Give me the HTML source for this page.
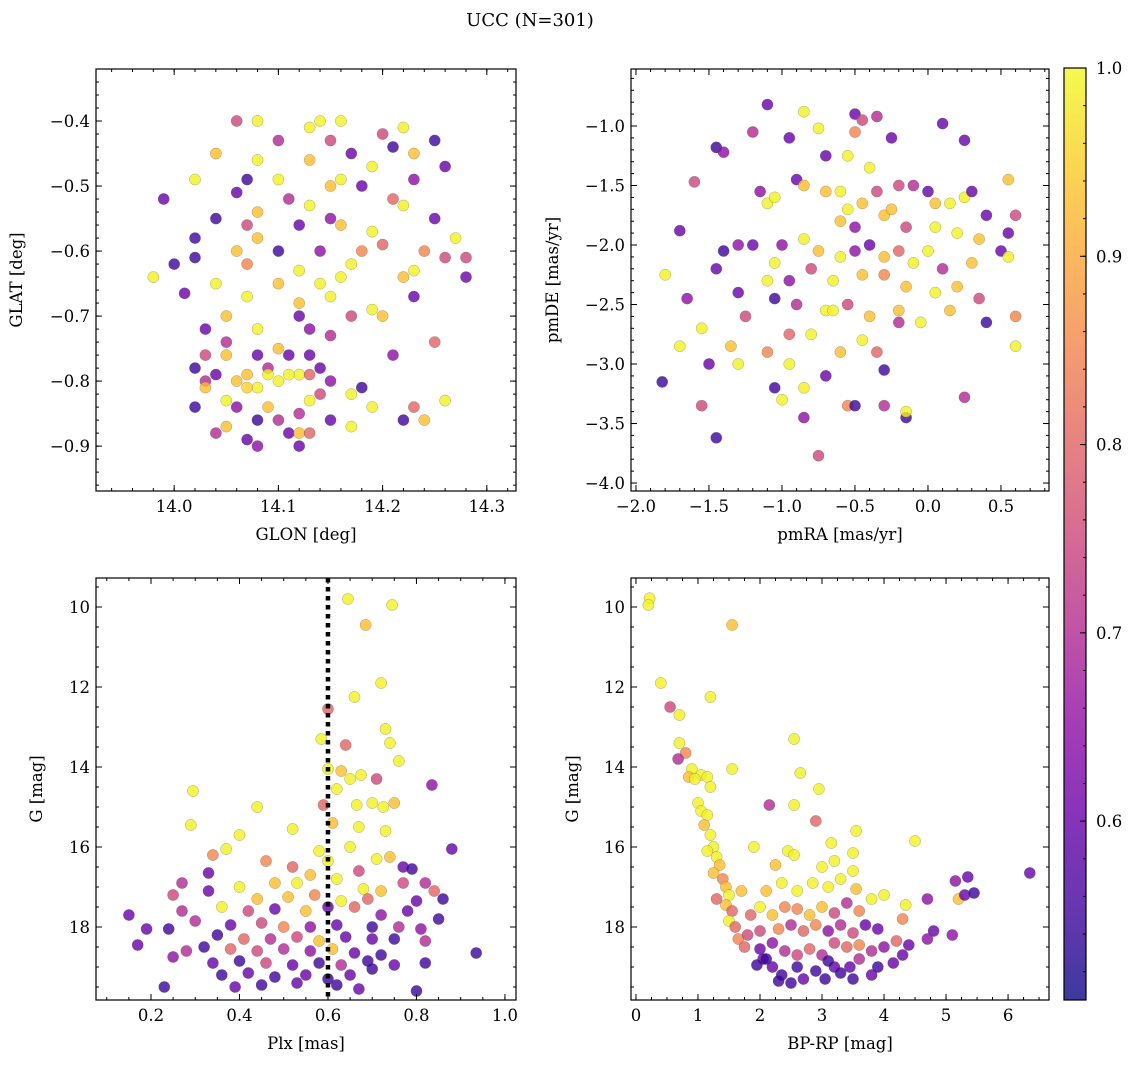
<!DOCTYPE html>
<html><head><meta charset="utf-8"><style>
html,body{margin:0;padding:0;background:#fff;width:1136px;height:1068px;overflow:hidden}
svg text{font-family:"DejaVu Serif","Liberation Serif",serif;fill:#000}
</style></head><body>
<svg id="fig" width="1136" height="1068" viewBox="0 0 1136 1068" xmlns="http://www.w3.org/2000/svg">
<defs>
<linearGradient id="plasma" x1="0" y1="1" x2="0" y2="0"></linearGradient>
</defs>
<text x="530" y="26" font-size="18" text-anchor="middle">UCC (N=301)</text>
</svg>
<script>
// ---- data arrays: [x, y, membership probability] ----
const glonGlat = [[13.98,-0.64,0.99],[13.99,-0.52,0.6],[14.0,-0.62,0.55],[14.01,-0.665,0.6],[14.02,-0.49,0.99],[14.02,-0.58,0.55],[14.02,-0.61,0.55],[14.03,-0.72,0.6],[14.03,-0.76,0.75],[14.02,-0.84,0.55],[14.02,-0.78,0.55],[14.03,-0.8,0.7],[14.04,-0.45,0.93],[14.04,-0.55,0.55],[14.04,-0.65,0.99],[14.05,-0.7,0.93],[14.05,-0.74,0.7],[14.05,-0.83,0.99],[14.05,-0.87,0.93],[14.04,-0.88,0.7],[14.06,-0.51,0.6],[14.06,-0.6,0.93],[14.06,-0.4,0.75],[14.07,-0.49,0.55],[14.07,-0.56,0.75],[14.07,-0.62,0.85],[14.07,-0.67,0.99],[14.08,-0.4,0.99],[14.08,-0.46,0.99],[14.08,-0.54,0.93],[14.08,-0.58,0.93],[14.08,-0.72,0.99],[14.08,-0.76,0.6],[14.07,-0.79,0.93],[14.08,-0.81,0.99],[14.08,-0.86,0.55],[14.07,-0.89,0.6],[14.09,-0.78,0.7],[14.09,-0.84,0.93],[14.1,-0.43,0.7],[14.1,-0.49,0.99],[14.1,-0.6,0.55],[14.1,-0.65,0.93],[14.1,-0.75,0.93],[14.1,-0.8,0.99],[14.11,-0.88,0.6],[14.11,-0.52,0.7],[14.12,-0.56,0.6],[14.12,-0.63,0.99],[14.12,-0.68,0.93],[14.12,-0.7,0.6],[14.12,-0.79,0.99],[14.12,-0.85,0.7],[14.12,-0.88,0.93],[14.13,-0.41,0.99],[14.13,-0.46,0.93],[14.13,-0.53,0.99],[14.13,-0.72,0.65],[14.13,-0.76,0.6],[14.13,-0.83,0.99],[14.14,-0.4,0.99],[14.14,-0.6,0.65],[14.14,-0.65,0.99],[14.14,-0.78,0.6],[14.14,-0.82,0.75],[14.15,-0.43,0.75],[14.15,-0.5,0.93],[14.15,-0.55,0.65],[14.15,-0.67,0.99],[14.15,-0.73,0.7],[14.15,-0.8,0.65],[14.15,-0.86,0.6],[14.16,-0.4,0.99],[14.16,-0.49,0.99],[14.16,-0.56,0.93],[14.16,-0.64,0.99],[14.17,-0.45,0.6],[14.17,-0.62,0.99],[14.17,-0.7,0.75],[14.17,-0.82,0.99],[14.17,-0.87,0.99],[14.18,-0.5,0.6],[14.18,-0.6,0.85],[14.18,-0.81,0.55],[14.19,-0.47,0.99],[14.19,-0.57,0.99],[14.19,-0.69,0.99],[14.19,-0.84,0.99],[14.2,-0.42,0.75],[14.2,-0.59,0.8],[14.2,-0.7,0.93],[14.21,-0.44,0.55],[14.21,-0.52,0.8],[14.21,-0.76,0.65],[14.22,-0.41,0.99],[14.22,-0.53,0.99],[14.22,-0.64,0.93],[14.22,-0.86,0.55],[14.23,-0.45,0.93],[14.23,-0.49,0.65],[14.23,-0.63,0.99],[14.23,-0.67,0.6],[14.23,-0.84,0.8],[14.24,-0.6,0.85],[14.24,-0.86,0.93],[14.25,-0.43,0.55],[14.25,-0.55,0.6],[14.25,-0.74,0.8],[14.26,-0.61,0.75],[14.26,-0.83,0.99],[14.27,-0.58,0.99],[14.28,-0.61,0.75],[14.28,-0.64,0.6],[14.26,-0.47,0.6],[14.06,-0.8,0.93],[14.07,-0.81,0.95],[14.09,-0.79,0.99],[14.11,-0.79,0.99],[14.11,-0.76,0.6],[14.13,-0.79,0.8],[14.06,-0.84,0.65],[14.1,-0.86,0.7],[14.12,-0.9,0.6],[14.08,-0.9,0.65],[14.13,-0.88,0.8],[14.05,-0.76,0.93],[14.04,-0.79,0.6],[14.03,-0.81,0.93]];
const pmraPmde = [[-1.1,-0.82,0.6],[-0.85,-0.88,0.99],[-1.2,-1.05,0.7],[-1.45,-1.18,0.55],[-1.4,-1.22,0.65],[-1.6,-1.47,0.75],[-0.95,-1.1,0.6],[-0.75,-1.02,0.99],[-0.5,-0.9,0.6],[-0.45,-0.95,0.75],[-0.35,-0.92,0.7],[-0.5,-1.05,0.85],[-0.7,-1.25,0.6],[-0.55,-1.25,0.99],[-0.4,-1.35,0.99],[-0.25,-1.1,0.6],[0.1,-0.98,0.6],[0.25,-1.12,0.6],[-1.15,-1.55,0.65],[-1.1,-1.65,0.99],[-1.05,-1.6,0.99],[-0.9,-1.45,0.6],[-0.85,-1.5,0.93],[-0.7,-1.55,0.93],[-0.6,-1.55,0.99],[-0.55,-1.7,0.99],[-0.45,-1.65,0.93],[-0.35,-1.55,0.75],[-0.2,-1.5,0.75],[-0.1,-1.5,0.7],[0.0,-1.55,0.6],[0.05,-1.65,0.93],[0.15,-1.65,0.99],[0.25,-1.6,0.99],[0.3,-1.55,0.6],[0.55,-1.45,0.93],[0.4,-1.75,0.6],[0.6,-1.75,0.75],[0.55,-1.9,0.6],[-0.6,-1.8,0.93],[-0.5,-1.85,0.65],[-0.3,-1.75,0.93],[-0.25,-1.7,0.93],[-0.15,-1.85,0.75],[0.05,-1.85,0.99],[0.2,-1.9,0.99],[0.35,-1.95,0.93],[-1.7,-1.88,0.6],[-1.4,-2.05,0.55],[-1.3,-2.0,0.65],[-1.2,-2.0,0.6],[-1.0,-2.0,0.65],[-0.85,-1.95,0.99],[-0.75,-2.05,0.93],[-0.6,-2.1,0.99],[-0.5,-2.05,0.65],[-0.4,-2.0,0.6],[-0.3,-2.1,0.93],[-0.2,-2.05,0.8],[-0.1,-2.15,0.99],[0.0,-2.05,0.99],[0.1,-2.2,0.7],[0.3,-2.15,0.93],[0.5,-2.05,0.6],[0.55,-2.1,0.99],[-1.8,-2.25,0.99],[-1.65,-2.45,0.65],[-1.45,-2.2,0.6],[-1.05,-2.15,0.99],[-0.95,-2.3,0.65],[-0.8,-2.2,0.75],[-0.65,-2.3,0.99],[-0.45,-2.25,0.93],[-0.3,-2.25,0.85],[-0.15,-2.35,0.93],[0.05,-2.4,0.99],[0.2,-2.35,0.93],[0.35,-2.45,0.75],[-1.3,-2.4,0.6],[-1.05,-2.45,0.55],[-0.9,-2.5,0.7],[-0.7,-2.55,0.99],[-0.55,-2.5,0.75],[-0.4,-2.6,0.93],[-0.2,-2.55,0.93],[-0.05,-2.65,0.99],[0.15,-2.55,0.93],[0.4,-2.65,0.55],[0.6,-2.6,0.85],[0.6,-2.85,0.99],[-1.7,-2.85,0.99],[-1.55,-2.7,0.99],[-1.35,-2.85,0.93],[-1.25,-2.6,0.75],[-1.1,-2.9,0.85],[-0.95,-2.75,0.8],[-0.8,-2.75,0.99],[-0.6,-2.9,0.93],[-0.45,-2.8,0.99],[-0.35,-2.9,0.8],[-0.2,-2.65,0.7],[-1.5,-3.0,0.6],[-1.3,-3.0,0.99],[-1.05,-3.2,0.55],[-0.95,-3.0,0.99],[-0.85,-3.2,0.99],[-0.7,-3.1,0.6],[-0.55,-3.35,0.85],[-0.3,-3.05,0.55],[-0.3,-3.35,0.7],[-0.15,-3.45,0.55],[-0.15,-3.4,0.99],[0.25,-3.28,0.7],[-1.55,-3.35,0.75],[-1.45,-3.62,0.55],[-1.0,-3.3,0.99],[-0.85,-3.45,0.65],[-0.75,-3.77,0.75],[-1.82,-3.15,0.55],[-0.5,-3.35,0.55],[-1.1,-2.3,0.99],[-0.65,-2.55,0.99]];
const plxG = [[0.645,9.8,0.99],[0.745,9.95,0.99],[0.685,10.45,0.93],[0.66,12.25,0.99],[0.72,11.9,0.99],[0.6,12.55,0.8],[0.585,13.3,0.99],[0.73,13.05,0.99],[0.74,13.4,0.99],[0.64,13.45,0.8],[0.76,13.85,0.99],[0.6,14.05,0.99],[0.63,14.1,0.93],[0.65,14.3,0.99],[0.675,14.2,0.99],[0.71,14.3,0.75],[0.835,14.45,0.65],[0.62,14.55,0.99],[0.295,14.6,0.99],[0.44,15.0,0.99],[0.59,14.95,0.8],[0.665,14.95,0.99],[0.7,14.9,0.99],[0.725,15.0,0.99],[0.75,14.9,0.93],[0.61,15.4,0.93],[0.67,15.5,0.99],[0.73,15.6,0.99],[0.52,15.55,0.99],[0.29,15.45,0.99],[0.4,15.7,0.99],[0.88,16.05,0.6],[0.34,16.2,0.85],[0.37,16.05,0.99],[0.46,16.35,0.85],[0.52,16.5,0.8],[0.58,16.1,0.99],[0.6,16.35,0.99],[0.65,16.0,0.99],[0.71,16.3,0.99],[0.74,16.25,0.93],[0.77,16.5,0.6],[0.79,16.55,0.55],[0.56,16.7,0.93],[0.62,16.8,0.99],[0.67,16.6,0.75],[0.33,16.65,0.6],[0.27,16.9,0.7],[0.4,17.0,0.99],[0.48,16.9,0.93],[0.53,16.9,0.99],[0.68,17.05,0.99],[0.72,17.1,0.93],[0.77,16.9,0.75],[0.82,16.9,0.7],[0.84,17.1,0.8],[0.25,17.2,0.75],[0.33,17.1,0.6],[0.44,17.3,0.93],[0.51,17.25,0.93],[0.57,17.2,0.85],[0.63,17.35,0.99],[0.69,17.3,0.8],[0.8,17.35,0.6],[0.86,17.3,0.55],[0.15,17.7,0.6],[0.27,17.6,0.7],[0.36,17.5,0.99],[0.42,17.6,0.75],[0.48,17.55,0.6],[0.55,17.6,0.93],[0.6,17.5,0.6],[0.66,17.5,0.8],[0.72,17.7,0.65],[0.78,17.6,0.6],[0.85,17.8,0.55],[0.3,17.85,0.7],[0.38,17.95,0.6],[0.45,17.9,0.75],[0.5,18.0,0.85],[0.56,18.0,0.65],[0.62,17.95,0.6],[0.7,18.0,0.55],[0.76,18.0,0.7],[0.81,18.05,0.65],[0.19,18.05,0.6],[0.24,18.05,0.55],[0.35,18.2,0.55],[0.41,18.3,0.8],[0.47,18.3,0.7],[0.53,18.25,0.75],[0.58,18.35,0.93],[0.64,18.25,0.6],[0.7,18.3,0.6],[0.75,18.3,0.55],[0.82,18.35,0.7],[0.17,18.45,0.6],[0.28,18.6,0.7],[0.32,18.5,0.55],[0.38,18.55,0.8],[0.44,18.6,0.75],[0.5,18.55,0.7],[0.56,18.6,0.65],[0.61,18.55,0.93],[0.66,18.65,0.6],[0.72,18.7,0.55],[0.935,18.65,0.55],[0.25,18.75,0.65],[0.34,18.9,0.6],[0.4,18.85,0.55],[0.46,18.9,0.75],[0.52,18.95,0.6],[0.58,18.9,0.55],[0.63,18.95,0.7],[0.69,18.85,0.55],[0.75,18.95,0.6],[0.82,18.9,0.55],[0.36,19.2,0.55],[0.42,19.15,0.6],[0.48,19.25,0.55],[0.55,19.2,0.6],[0.6,19.3,0.55],[0.65,19.2,0.6],[0.7,19.05,0.55],[0.23,19.5,0.55],[0.39,19.5,0.6],[0.45,19.45,0.55],[0.53,19.4,0.6],[0.62,19.45,0.55],[0.8,19.6,0.55],[0.67,19.55,0.6]];
const colorG = [[0.22,9.78,0.99],[0.2,9.95,0.99],[0.4,11.9,0.99],[0.55,12.5,0.75],[0.7,12.7,0.99],[1.55,10.45,0.93],[1.2,12.25,0.99],[0.7,13.4,0.99],[0.8,13.65,0.85],[0.68,13.8,0.7],[0.9,14.05,0.99],[1.05,14.2,0.99],[0.85,14.25,0.93],[0.95,14.3,0.99],[1.15,14.25,0.99],[1.55,14.05,0.99],[1.2,14.5,0.99],[2.55,13.3,0.99],[2.65,14.15,0.99],[2.15,14.95,0.7],[2.55,14.95,0.99],[2.95,14.55,0.99],[1.0,14.9,0.99],[1.05,15.1,0.99],[1.15,15.2,0.99],[1.1,15.45,0.93],[1.2,15.7,0.99],[1.25,16.0,0.99],[1.15,16.1,0.99],[1.3,16.25,0.99],[1.35,16.45,0.93],[1.25,16.65,0.93],[1.4,16.8,0.85],[1.45,17.0,0.93],[1.5,17.2,0.99],[1.45,17.45,0.93],[1.55,17.6,0.8],[1.5,17.85,0.99],[1.6,18.0,0.8],[1.65,18.3,0.85],[1.75,18.5,0.8],[1.8,18.2,0.75],[2.0,18.55,0.6],[2.05,18.8,0.6],[1.95,18.95,0.55],[2.2,19.0,0.6],[2.35,19.2,0.55],[2.5,19.4,0.55],[2.7,19.3,0.6],[2.9,19.1,0.55],[3.05,19.3,0.55],[3.2,19.0,0.6],[3.3,19.15,0.55],[3.45,19.0,0.6],[3.6,18.8,0.7],[3.8,19.2,0.6],[3.9,19.0,0.55],[2.2,18.4,0.65],[2.4,18.6,0.7],[2.6,18.7,0.75],[2.8,18.55,0.8],[3.0,18.7,0.7],[3.2,18.4,0.75],[3.4,18.5,0.8],[3.6,18.45,0.85],[3.8,18.6,0.7],[4.0,18.5,0.65],[4.2,18.35,0.8],[4.4,18.45,0.6],[2.0,18.1,0.75],[2.3,18.05,0.85],[2.5,17.95,0.7],[2.7,18.1,0.8],[2.9,17.95,0.85],[3.1,18.1,0.65],[3.3,17.95,0.7],[3.5,18.15,0.75],[3.7,17.95,0.6],[3.9,18.05,0.6],[4.3,17.8,0.85],[4.8,18.1,0.6],[5.1,18.2,0.65],[2.0,17.5,0.99],[2.2,17.7,0.93],[2.4,17.5,0.85],[2.6,17.55,0.85],[2.8,17.7,0.93],[3.0,17.5,0.93],[3.2,17.65,0.75],[3.4,17.4,0.7],[3.6,17.6,0.85],[3.8,17.3,0.99],[4.0,17.2,0.99],[4.35,17.45,0.99],[4.7,17.3,0.65],[5.2,17.3,0.93],[5.3,17.2,0.6],[5.45,17.15,0.55],[5.35,16.75,0.6],[5.15,16.85,0.65],[6.35,16.65,0.6],[2.1,17.1,0.93],[2.35,16.9,0.99],[2.6,17.1,0.99],[2.85,16.9,0.99],[3.1,17.0,0.99],[3.3,16.8,0.99],[3.55,17.05,0.93],[2.25,16.45,0.93],[2.45,16.1,0.99],[2.55,16.2,0.99],[3.0,16.5,0.99],[3.2,16.35,0.99],[3.5,16.6,0.99],[3.5,16.15,0.99],[3.55,15.6,0.99],[3.15,15.9,0.99],[2.9,15.35,0.8],[4.5,15.85,0.99],[1.9,16.0,0.99],[1.3,17.3,0.8],[1.7,17.1,0.93],[1.85,17.7,0.8],[2.1,18.8,0.55],[2.6,19.0,0.55],[3.1,18.85,0.55],[4.15,18.9,0.6],[4.3,18.7,0.6],[4.7,18.3,0.65],[3.5,19.3,0.55],[2.3,19.35,0.55]];
const plxLine = 0.6;
const glonTicks = [14.0,14.1,14.2,14.3];
const glatTicks = [-0.4,-0.5,-0.6,-0.7,-0.8,-0.9];
const pmraTicks = [-2.0,-1.5,-1.0,-0.5,0.0,0.5];
const pmdeTicks = [-1.0,-1.5,-2.0,-2.5,-3.0,-3.5,-4.0];
const plxTicks = [0.2,0.4,0.6,0.8,1.0];
const gTicks = [10,12,14,16,18];
const bprpTicks = [0,1,2,3,4,5,6];
const cbarTicks = [0.6,0.7,0.8,0.9,1.0];
const cMin = 0.505, cMax = 1.0;

const NS = "http://www.w3.org/2000/svg";
const svg = document.getElementById('fig');
const plasma = ["#0d0887","#41049d","#6a00a8","#8f0da4","#b12a90","#cc4778","#e16462","#f2844b","#fca636","#fcce25","#f0f921"];
function hex(h){return [parseInt(h.substr(1,2),16),parseInt(h.substr(3,2),16),parseInt(h.substr(5,2),16)];}
function cmap(v){
  let t=Math.max(0,Math.min(1,(v-cMin)/(cMax-cMin)))*10;
  let i=Math.min(9,Math.floor(t)), f=t-i;
  let a=hex(plasma[i]), b=hex(plasma[i+1]);
  return `rgb(${a.map((x,k)=>Math.round(x+(b[k]-x)*f)).join(',')})`;
}
function el(tag, attrs, parent){
  const e=document.createElementNS(NS,tag);
  for(const k in attrs) e.setAttribute(k,attrs[k]);
  (parent||svg).appendChild(e); return e;
}
const grad=document.getElementById('plasma');
plasma.forEach((c,i)=>el('stop',{offset:(i*10)+'%','stop-color':c},grad));

function fmt(v,d){return (v<0?'\u2212':'')+Math.abs(v).toFixed(d);}

function panel(cfg){
  const {L,T,R,B,xmin,xmax,ymin,ymax,yInv,data,xt,yt,xd,yd,xminor,yminor,xlabel,ylabel,name}=cfg;
  const sx=v=>L+(v-xmin)/(xmax-xmin)*(R-L);
  const sy=yInv? v=>T+(v-ymin)/(ymax-ymin)*(B-T) : v=>B-(v-ymin)/(ymax-ymin)*(B-T);
  const g=el('g',{});
  
  
  const pts=el('g',{},g);
  
  
  data.forEach(d=>{
    const c=el('circle',{cx:sx(d[0]).toFixed(1),cy:sy(d[1]).toFixed(1),r:5.6,fill:cmap(d[2]),'fill-opacity':0.8,stroke:'#555','stroke-width':0.4,'stroke-opacity':0.6},pts);
    
    
  });
  if(cfg.vline!==undefined){
    const l=el('line',{x1:sx(cfg.vline),x2:sx(cfg.vline),y1:T,y2:B,stroke:'#000','stroke-width':4.5,'stroke-dasharray':'4.5,4.5'},g);
    
    
  }
  const fr=el('rect',{x:L,y:T,width:R-L,height:B-T,fill:'none',stroke:'#000','stroke-width':1.2},g);
  
  
  const tk=el('g',{stroke:'#000','stroke-width':1},g);
  const lo=Math.min(xmin,xmax), hi=Math.max(xmin,xmax);
  for(let v=Math.ceil(lo/xminor-1e-6)*xminor; v<=hi+1e-9; v+=xminor){
    const x=sx(v); el('line',{x1:x,x2:x,y1:B,y2:B-3},tk); el('line',{x1:x,x2:x,y1:T,y2:T+3},tk);
  }
  const ylo=Math.min(ymin,ymax), yhi=Math.max(ymin,ymax);
  for(let v=Math.ceil(ylo/yminor-1e-6)*yminor; v<=yhi+1e-9; v+=yminor){
    const y=sy(v); el('line',{x1:L,x2:L+3,y1:y,y2:y},tk); el('line',{x1:R,x2:R-3,y1:y,y2:y},tk);
  }
  xt.forEach(v=>{
    const x=sx(v); el('line',{x1:x,x2:x,y1:B,y2:B-6},tk); el('line',{x1:x,x2:x,y1:T,y2:T+6},tk);
    const t=el('text',{x:x,y:B+21,'font-size':16.5,'text-anchor':'middle'},g); t.textContent=fmt(v,xd);
    
    
  });
  yt.forEach(v=>{
    const y=sy(v); el('line',{x1:L,x2:L+6,y1:y,y2:y},tk); el('line',{x1:R,x2:R-6,y1:y,y2:y},tk);
    const t=el('text',{x:L-6,y:y+6,'font-size':16.5,'text-anchor':'end'},g); t.textContent=fmt(v,yd);
    
    
  });
  const xl=el('text',{x:(L+R)/2,y:B+49,'font-size':16.5,'text-anchor':'middle'},g); xl.textContent=xlabel;
  
  
  const yl=el('text',{x:0,y:0,'font-size':16.5,'text-anchor':'middle',transform:`translate(${cfg.ylx},${(T+B)/2}) rotate(-90)`},g); yl.textContent=ylabel;
  
  
}

panel({name:'glon-glat',L:96,T:69,R:516,B:491,xmin:13.925,xmax:14.328,ymin:-0.969,ymax:-0.32,data:glonGlat,xt:glonTicks,yt:glatTicks,xd:1,yd:1,xminor:0.02,yminor:0.02,xlabel:'GLON [deg]',ylabel:'GLAT [deg]',ylx:22});
panel({name:'proper-motion',L:631,T:69,R:1049,B:491,xmin:-2.034,xmax:0.829,ymin:-4.067,ymax:-0.521,data:pmraPmde,xt:pmraTicks,yt:pmdeTicks,xd:1,yd:1,xminor:0.1,yminor:0.1,xlabel:'pmRA [mas/yr]',ylabel:'pmDE [mas/yr]',ylx:558});
panel({name:'plx-g',L:96,T:578,R:516,B:1000,xmin:0.0757,xmax:1.025,ymin:9.275,ymax:19.825,yInv:true,data:plxG,xt:plxTicks,yt:gTicks,xd:1,yd:0,xminor:0.05,yminor:0.5,xlabel:'Plx [mas]',ylabel:'G [mag]',ylx:42,vline:plxLine});
panel({name:'cmd',L:631,T:578,R:1049,B:1000,xmin:-0.08,xmax:6.66,ymin:9.275,ymax:19.825,yInv:true,data:colorG,xt:bprpTicks,yt:gTicks,xd:0,yd:0,xminor:0.25,yminor:0.5,xlabel:'BP-RP [mag]',ylabel:'G [mag]',ylx:578});

const cb=el('g',{});


const CT=68, CB=1000, CL=1064, CR=1086;
el('rect',{x:CL,y:CT,width:CR-CL,height:CB-CT,fill:'url(#plasma)','fill-opacity':0.8},cb);
el('rect',{x:CL,y:CT,width:CR-CL,height:CB-CT,fill:'none',stroke:'#000','stroke-width':1.2},cb);
const cy=v=>CB-(v-cMin)/(cMax-cMin)*(CB-CT);
for(let v=0.52; v<=1.0001; v+=0.02){el('line',{x1:CR,x2:CR-3,y1:cy(v),y2:cy(v),stroke:'#000'},cb);}
cbarTicks.forEach(v=>{
  el('line',{x1:CR,x2:CR-6,y1:cy(v),y2:cy(v),stroke:'#000'},cb);
  const t=el('text',{x:CR+10,y:cy(v)+6,'font-size':16.5},cb); t.textContent=v.toFixed(1);
  
  
});
</script>
</body></html>
